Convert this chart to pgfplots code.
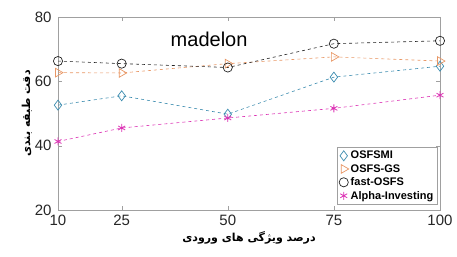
\documentclass[border=0pt]{standalone}
\usepackage{pgfplots}
\pgfplotsset{compat=1.18}
\usepackage{fontspec}
\setmainfont{Liberation Sans}
\newfontfamily\arabicfont[Script=Arabic]{DejaVu Sans}
\TeXXeTstate=1
\definecolor{cmi}{RGB}{60,140,175}
\definecolor{cgs}{RGB}{232,150,100}
\definecolor{cfast}{RGB}{35,35,35}
\definecolor{calpha}{RGB}{220,50,180}
\definecolor{axgray}{RGB}{160,160,160}
\begin{document}
\begin{tikzpicture}
\begin{axis}[
  scale only axis,
  width=382pt, height=193pt,
  xmin=10, xmax=100, ymin=20, ymax=80,
  xtick={10,25,50,75,100}, ytick={20,40,60,80},
  tick align=inside,
  axis line style={axgray},
  tick style={axgray},
  major tick length=4pt,
  /pgf/number format/assume math mode=true,
  tick label style={font=\fontsize{15}{15}\selectfont, text=black!85},
  xticklabel style={yshift=-2pt},
  yticklabel style={xshift=-3pt},
  xlabel={\arabicfont\bfseries\beginR درصد ویژگی های ورودی\endR},
  ylabel={\arabicfont\bfseries\beginR دقت طبقه بندی\endR},
  xlabel style={font=\fontsize{11}{11}\selectfont, yshift=2pt},
  ylabel style={font=\fontsize{11}{11}\selectfont, yshift=-4pt},
  legend style={at={(0.992,0.03)}, anchor=south east, draw=axgray,
    font=\fontsize{11}{11}\selectfont\bfseries, inner sep=1.5pt,
    row sep=0pt, cells={anchor=west}},
  legend cell align=left,
  legend image code/.code={\draw[#1] plot coordinates {(0.12cm,0cm)};},
  every axis plot/.append style={dashed, line width=0.6pt},
]
\addplot[cmi, mark=diamond, mark size=5pt, mark options={solid, line width=0.7pt}]
  coordinates {(10,52.6) (25,55.5) (50,49.8) (75,61.3) (100,64.7)};
\addlegendentry{OSFSMI}
\addplot[cgs, mark=triangle, mark size=5pt, mark options={solid, rotate=-90, line width=0.7pt}]
  coordinates {(10,62.7) (25,62.6) (50,65.5) (75,67.6) (100,66.3)};
\addlegendentry{OSFS-GS}
\addplot[cfast, mark=o, mark size=4.6pt, mark options={solid, line width=0.7pt}]
  coordinates {(10,66.3) (25,65.5) (50,64.3) (75,71.7) (100,72.6)};
\addlegendentry{fast-OSFS}
\addplot[calpha, mark=asterisk, mark size=4pt, mark options={solid, line width=0.8pt}]
  coordinates {(10,41.3) (25,45.5) (50,48.6) (75,51.6) (100,55.7)};
\addlegendentry{Alpha-Investing}
\node[anchor=base, font=\fontsize{20}{20}\selectfont] at (axis cs:45.6,70.7) {madelon};
\end{axis}
\path ([shift={(-58pt,-47pt)}]current axis.south west) rectangle ([shift={(17pt,17pt)}]current axis.north east);
\end{tikzpicture}
\end{document}
